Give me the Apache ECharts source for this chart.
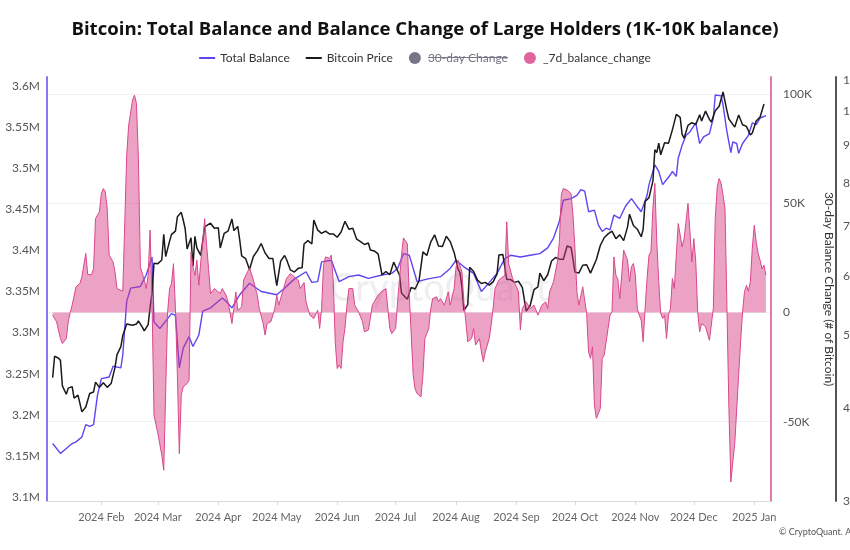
<!DOCTYPE html>
<html>
<head>
<meta charset="utf-8">
<script src="https://cdn.jsdelivr.net/npm/echarts@6/dist/echarts.min.js"></script>
<style>html,body{margin:0;padding:0;background:#fff}#c{width:850px;height:550px}</style>
</head>
<body>
<div id="c"></div>
<script>
// ---- Data ----
const balanceDates = ['2024-01-07','2024-01-11','2024-01-14','2024-01-17','2024-01-19','2024-01-22','2024-01-24','2024-01-26','2024-01-28','2024-01-30','2024-02-01','2024-02-05','2024-02-07','2024-02-11','2024-02-12','2024-02-14','2024-02-16','2024-02-21','2024-02-24','2024-02-27','2024-02-28','2024-03-02','2024-03-06','2024-03-08','2024-03-10','2024-03-12','2024-03-14','2024-03-17','2024-03-19','2024-03-22','2024-03-24','2024-03-28','2024-03-31','2024-04-03','2024-04-05','2024-04-08','2024-04-12','2024-04-17','2024-04-23','2024-05-01','2024-05-05','2024-05-10','2024-05-16','2024-05-19','2024-05-22','2024-05-24','2024-05-29','2024-06-02','2024-06-07','2024-06-12','2024-06-17','2024-06-24','2024-06-29','2024-07-02','2024-07-05','2024-07-08','2024-07-12','2024-07-17','2024-07-24','2024-07-29','2024-08-01','2024-08-05','2024-08-10','2024-08-14','2024-08-17','2024-08-22','2024-08-26','2024-08-29','2024-09-03','2024-09-08','2024-09-13','2024-09-17','2024-09-20','2024-09-23','2024-09-25','2024-09-29','2024-10-02','2024-10-04','2024-10-06','2024-10-08','2024-10-11','2024-10-13','2024-10-15','2024-10-17','2024-10-19','2024-10-21','2024-10-24','2024-10-27','2024-10-30','2024-11-02','2024-11-04','2024-11-07','2024-11-08','2024-11-09','2024-11-11','2024-11-13','2024-11-15','2024-11-16','2024-11-19','2024-11-20','2024-11-22','2024-11-23','2024-11-25','2024-11-27','2024-11-29','2024-12-02','2024-12-04','2024-12-06','2024-12-09','2024-12-11','2024-12-12','2024-12-15','2024-12-16','2024-12-18','2024-12-20','2024-12-21','2024-12-23','2024-12-24','2024-12-26','2024-12-29','2024-12-31','2025-01-02','2025-01-04','2025-01-07'];
const balanceValues = [3.165,3.153,3.159,3.165,3.167,3.173,3.188,3.186,3.188,3.224,3.244,3.246,3.259,3.257,3.273,3.338,3.354,3.356,3.370,3.392,3.313,3.305,3.317,3.323,3.321,3.257,3.281,3.295,3.283,3.297,3.326,3.330,3.336,3.342,3.338,3.330,3.346,3.360,3.350,3.346,3.354,3.365,3.374,3.361,3.362,3.386,3.388,3.362,3.368,3.370,3.366,3.370,3.372,3.378,3.396,3.394,3.362,3.365,3.368,3.378,3.388,3.380,3.372,3.350,3.358,3.372,3.390,3.394,3.392,3.394,3.396,3.403,3.415,3.435,3.461,3.463,3.467,3.474,3.472,3.447,3.449,3.431,3.423,3.427,3.425,3.443,3.439,3.454,3.463,3.453,3.447,3.467,3.480,3.482,3.504,3.496,3.480,3.480,3.492,3.496,3.490,3.512,3.528,3.540,3.544,3.555,3.530,3.538,3.542,3.561,3.589,3.588,3.577,3.544,3.519,3.532,3.530,3.518,3.530,3.540,3.555,3.553,3.561,3.564];

const priceDates = ['2024-01-07','2024-01-08','2024-01-10','2024-01-11','2024-01-12','2024-01-14','2024-01-15','2024-01-17','2024-01-18','2024-01-20','2024-01-22','2024-01-24','2024-01-26','2024-01-28','2024-01-29','2024-01-31','2024-02-02','2024-02-04','2024-02-06','2024-02-08','2024-02-09','2024-02-11','2024-02-12','2024-02-14','2024-02-15','2024-02-17','2024-02-19','2024-02-20','2024-02-22','2024-02-23','2024-02-25','2024-02-26','2024-02-27','2024-02-28','2024-03-01','2024-03-03','2024-03-04','2024-03-05','2024-03-07','2024-03-08','2024-03-10','2024-03-11','2024-03-13','2024-03-14','2024-03-15','2024-03-16','2024-03-18','2024-03-19','2024-03-20','2024-03-21','2024-03-23','2024-03-25','2024-03-26','2024-03-28','2024-03-30','2024-04-01','2024-04-02','2024-04-04','2024-04-06','2024-04-08','2024-04-09','2024-04-11','2024-04-12','2024-04-13','2024-04-15','2024-04-17','2024-04-19','2024-04-21','2024-04-23','2024-04-25','2024-04-27','2024-04-29','2024-04-30','2024-05-01','2024-05-03','2024-05-05','2024-05-06','2024-05-08','2024-05-10','2024-05-12','2024-05-14','2024-05-15','2024-05-17','2024-05-19','2024-05-20','2024-05-22','2024-05-24','2024-05-26','2024-05-28','2024-05-30','2024-06-01','2024-06-03','2024-06-05','2024-06-07','2024-06-09','2024-06-11','2024-06-13','2024-06-15','2024-06-17','2024-06-18','2024-06-20','2024-06-22','2024-06-24','2024-06-26','2024-06-28','2024-06-30','2024-07-01','2024-07-03','2024-07-04','2024-07-05','2024-07-07','2024-07-09','2024-07-11','2024-07-13','2024-07-15','2024-07-17','2024-07-19','2024-07-21','2024-07-23','2024-07-25','2024-07-27','2024-07-29','2024-07-31','2024-08-02','2024-08-03','2024-08-04','2024-08-05','2024-08-07','2024-08-08','2024-08-10','2024-08-12','2024-08-14','2024-08-16','2024-08-18','2024-08-20','2024-08-22','2024-08-23','2024-08-25','2024-08-27','2024-08-29','2024-08-31','2024-09-02','2024-09-04','2024-09-06','2024-09-08','2024-09-10','2024-09-12','2024-09-13','2024-09-15','2024-09-17','2024-09-19','2024-09-21','2024-09-23','2024-09-25','2024-09-27','2024-09-29','2024-09-30','2024-10-01','2024-10-03','2024-10-05','2024-10-07','2024-10-09','2024-10-10','2024-10-12','2024-10-14','2024-10-16','2024-10-18','2024-10-20','2024-10-22','2024-10-24','2024-10-26','2024-10-28','2024-10-29','2024-10-31','2024-11-02','2024-11-04','2024-11-05','2024-11-06','2024-11-08','2024-11-10','2024-11-11','2024-11-12','2024-11-13','2024-11-14','2024-11-16','2024-11-18','2024-11-20','2024-11-22','2024-11-24','2024-11-25','2024-11-26','2024-11-28','2024-11-30','2024-12-02','2024-12-04','2024-12-05','2024-12-07','2024-12-09','2024-12-10','2024-12-12','2024-12-14','2024-12-16','2024-12-17','2024-12-18','2024-12-19','2024-12-20','2024-12-22','2024-12-24','2024-12-26','2024-12-28','2024-12-30','2024-12-31','2025-01-02','2025-01-04','2025-01-06'];
const priceValues = [43.9,46.9,46.6,46.3,42.8,41.7,42.5,42.7,41.2,41.6,39.5,40.1,41.8,42.0,43.3,42.6,43.2,42.6,43.1,45.3,47.1,48.3,50.0,51.8,52.0,51.6,51.8,52.3,51.3,50.7,51.7,54.5,57.1,62.5,62.4,63.1,68.3,63.8,66.9,68.3,69.0,72.1,73.1,71.4,69.5,65.3,67.6,61.9,67.9,65.5,64.0,69.9,70.0,70.7,69.6,69.7,65.5,68.5,69.0,71.6,69.1,70.0,67.1,63.9,63.4,61.3,63.8,64.9,66.4,64.5,63.4,63.4,60.6,58.3,62.9,64.0,63.2,61.2,60.8,61.5,61.6,66.3,67.0,66.3,71.4,69.2,68.5,69.0,68.4,68.4,67.7,68.8,71.1,69.4,69.6,67.3,66.8,66.2,66.5,65.1,64.9,64.3,60.3,60.9,60.3,62.7,62.9,60.2,57.0,56.6,55.9,58.0,57.7,59.2,64.7,64.0,66.7,68.2,65.9,65.8,67.9,66.8,64.6,61.4,60.7,58.1,54.0,55.0,61.7,60.9,59.3,58.7,58.9,58.4,59.0,60.4,64.1,64.2,59.4,59.4,58.9,59.1,58.0,53.9,54.8,57.6,58.1,60.6,59.2,60.3,62.9,63.6,63.3,63.2,65.9,65.6,63.3,60.8,60.6,62.1,62.2,60.6,60.3,63.2,66.0,67.6,68.4,69.0,67.4,68.2,67.0,69.9,72.7,70.2,69.4,67.8,69.4,75.6,76.5,80.5,88.7,87.9,90.5,87.3,90.6,90.5,94.3,98.9,98.0,93.0,91.9,95.6,96.4,95.9,98.8,96.9,99.9,97.4,96.6,100.0,101.4,106.0,106.1,100.0,97.5,97.2,95.1,98.7,95.8,95.3,92.8,93.4,96.9,98.1,102.1];

const changeDates = ['2024-01-07','2024-01-09','2024-01-11','2024-01-12','2024-01-14','2024-01-15','2024-01-16','2024-01-17','2024-01-19','2024-01-21','2024-01-22','2024-01-24','2024-01-25','2024-01-27','2024-01-28','2024-01-29','2024-01-31','2024-02-01','2024-02-02','2024-02-03','2024-02-04','2024-02-05','2024-02-07','2024-02-08','2024-02-09','2024-02-12','2024-02-13','2024-02-14','2024-02-15','2024-02-17','2024-02-18','2024-02-19','2024-02-20','2024-02-21','2024-02-23','2024-02-24','2024-02-25','2024-02-26','2024-02-27','2024-02-28','2024-03-01','2024-03-02','2024-03-03','2024-03-04','2024-03-05','2024-03-06','2024-03-07','2024-03-08','2024-03-09','2024-03-10','2024-03-11','2024-03-12','2024-03-13','2024-03-14','2024-03-16','2024-03-17','2024-03-18','2024-03-19','2024-03-20','2024-03-21','2024-03-22','2024-03-23','2024-03-24','2024-03-25','2024-03-26','2024-03-27','2024-03-28','2024-03-30','2024-04-02','2024-04-03','2024-04-04','2024-04-05','2024-04-06','2024-04-08','2024-04-09','2024-04-10','2024-04-11','2024-04-13','2024-04-14','2024-04-16','2024-04-17','2024-04-19','2024-04-21','2024-04-22','2024-04-24','2024-04-25','2024-04-26','2024-04-28','2024-04-30','2024-05-01','2024-05-02','2024-05-04','2024-05-06','2024-05-08','2024-05-10','2024-05-12','2024-05-13','2024-05-15','2024-05-16','2024-05-18','2024-05-20','2024-05-21','2024-05-22','2024-05-23','2024-05-24','2024-05-25','2024-05-26','2024-05-28','2024-05-29','2024-05-30','2024-05-31','2024-06-01','2024-06-02','2024-06-03','2024-06-04','2024-06-05','2024-06-06','2024-06-07','2024-06-09','2024-06-10','2024-06-12','2024-06-14','2024-06-15','2024-06-17','2024-06-18','2024-06-19','2024-06-22','2024-06-24','2024-06-26','2024-06-28','2024-06-29','2024-07-01','2024-07-02','2024-07-04','2024-07-05','2024-07-06','2024-07-07','2024-07-08','2024-07-09','2024-07-10','2024-07-11','2024-07-12','2024-07-14','2024-07-15','2024-07-16','2024-07-18','2024-07-19','2024-07-20','2024-07-22','2024-07-23','2024-07-24','2024-07-26','2024-07-28','2024-07-29','2024-07-31','2024-08-01','2024-08-02','2024-08-04','2024-08-05','2024-08-06','2024-08-07','2024-08-09','2024-08-10','2024-08-11','2024-08-13','2024-08-14','2024-08-15','2024-08-16','2024-08-18','2024-08-19','2024-08-20','2024-08-21','2024-08-23','2024-08-26','2024-08-27','2024-08-28','2024-08-30','2024-09-01','2024-09-02','2024-09-03','2024-09-04','2024-09-06','2024-09-08','2024-09-10','2024-09-12','2024-09-14','2024-09-16','2024-09-17','2024-09-18','2024-09-20','2024-09-22','2024-09-23','2024-09-24','2024-09-25','2024-09-27','2024-09-29','2024-09-30','2024-10-01','2024-10-02','2024-10-03','2024-10-05','2024-10-06','2024-10-07','2024-10-08','2024-10-09','2024-10-10','2024-10-11','2024-10-12','2024-10-14','2024-10-15','2024-10-16','2024-10-18','2024-10-19','2024-10-20','2024-10-21','2024-10-22','2024-10-23','2024-10-24','2024-10-25','2024-10-26','2024-10-27','2024-10-28','2024-10-29','2024-10-30','2024-10-31','2024-11-01','2024-11-02','2024-11-03','2024-11-04','2024-11-05','2024-11-06','2024-11-07','2024-11-08','2024-11-09','2024-11-10','2024-11-11','2024-11-12','2024-11-13','2024-11-14','2024-11-15','2024-11-16','2024-11-17','2024-11-18','2024-11-19','2024-11-20','2024-11-21','2024-11-22','2024-11-23','2024-11-24','2024-11-25','2024-11-26','2024-11-27','2024-11-28','2024-11-29','2024-11-30','2024-12-01','2024-12-02','2024-12-03','2024-12-04','2024-12-05','2024-12-07','2024-12-09','2024-12-10','2024-12-11','2024-12-12','2024-12-13','2024-12-14','2024-12-15','2024-12-16','2024-12-17','2024-12-18','2024-12-19','2024-12-20','2024-12-21','2024-12-22','2024-12-23','2024-12-24','2024-12-25','2024-12-26','2024-12-27','2024-12-28','2024-12-29','2024-12-30','2024-12-31','2025-01-01','2025-01-02','2025-01-03','2025-01-04','2025-01-05','2025-01-06','2025-01-07'];
const changeValues = [-1.2,-4.2,-11.9,-14.2,-11.9,-4.2,0,3.4,11.8,13.3,16.4,27.1,17.4,17.4,20.2,43.1,46.2,54.5,56.8,55.3,47.7,26.3,23.2,18.7,11,9.8,9.5,72.1,85.8,97.3,99.6,95.8,70.6,21,14.9,11,17.1,37.8,4.9,-47,-55.4,-56.1,-65.3,-72.2,-71.5,0.3,11,13.3,22.4,1.9,-28.7,-64.6,-37.8,-34,-32.5,-31,27.8,21,17.1,24,12.5,23.2,32.4,43,30.9,20.2,8.7,11,8.7,11,11,8,4.9,-5,1.9,9.5,1.1,2.6,14.9,18.7,20.5,14.9,8,1.9,-5,-10.3,-5,-4.2,1.9,8,3.4,9.5,15.6,17.9,16.4,14.9,11,13.8,4.9,-1.2,-2.7,-2.4,1.1,-7.3,1.9,21.7,25.5,24.8,26.3,14.1,-13.4,-25.6,-24.1,-25.6,-13.4,-7.3,3.4,11,11,3.4,0.3,-4.2,-8.8,-8,-2.7,3.4,8,9.8,11,-7.3,-9.6,-7.3,4.9,26.3,34.2,33.9,31.5,8,-10.3,-28.7,-35,-37.1,-38.6,-28.7,-11.9,-7.3,1.9,6.4,7.2,4.9,6.4,3.4,9.5,3.4,11,20.9,24,18.7,4.9,-4.2,-13.4,-11.9,-7.3,-14.9,-11.9,-18,-22.6,-18,-11.9,-5.8,1.9,11,14.9,17.1,41.6,22.5,15.6,11.8,9.5,-8,1.9,4.9,1.9,3.4,-1.2,3.4,4.9,1.9,9.5,14.1,23.2,32.4,53.8,56.8,56.1,54.5,44.6,29.4,9.5,3.4,11.8,11,-0.4,-18,-21,-15.7,-42.4,-48.5,-44,-21,-19.5,-7.3,-1.2,0.3,25.5,17.1,15.3,6.4,17.1,28.6,29.4,24,14.1,21,22.5,17.1,1.9,-1.2,-3.5,-13.4,1.9,15.6,26.3,27.8,47.7,59.2,32.4,14.1,-0.4,-2.7,-1.2,-11.9,-1.2,1.9,15.6,11,26.3,40.8,35.5,30.1,33.9,41.6,50,37,23.2,33.9,23.2,0,-8.8,-5,-6.5,-12.7,-11.9,1.9,43.1,57.6,61.4,59.2,53.8,47.7,1.9,-44,-77.6,-68.4,-60,-59.3,-28.7,-13.4,0.3,9.5,12.5,9.8,14.1,29.4,40,32.4,27.1,24,20,21.7,17.1];

const balanceTicks = [3.1,3.15,3.2,3.25,3.3,3.35,3.4,3.45,3.5,3.55,3.6];
const changeTicks = [-50,0,50,100];
const priceTicks = [30,40,50,60,70,80,90,100,110];
const monthTickDates = ['2024-02-01','2024-03-01','2024-04-01','2024-05-01','2024-06-01','2024-07-01','2024-08-01','2024-09-01','2024-10-01','2024-11-01','2024-12-01','2025-01-01'];
const monthNames = ['Jan','Feb','Mar','Apr','May','Jun','Jul','Aug','Sep','Oct','Nov','Dec'];
const xStart = '2024-01-04', xEnd = '2025-01-09';

const toTime = s => { const p = s.split('-').map(Number); return Date.UTC(p[0], p[1] - 1, p[2]); };
const zip = (a, b) => a.map((d, i) => [toTime(d), b[i]]);
const monthTicks = monthTickDates.map(toTime);
const DAY = 86400000;

const FONT = 'Lato';
const chart = echarts.init(document.getElementById('c'), null, {renderer: 'canvas'});
const linePath = 'path://M0,0H16V2H0Z';

chart.setOption({
  animation: false,
  textStyle: {fontFamily: FONT},
  title: {
    text: 'Bitcoin: Total Balance and Balance Change of Large Holders (1K-10K balance)',
    left: 'center', top: 15,
    textStyle: {fontFamily: 'Open Sans', fontSize: 18.6, fontWeight: 'bold', color: '#111'}
  },
  legend: {
    top: 47, left: 'center', itemGap: 16, itemWidth: 16, itemHeight: 12,
    textStyle: {fontFamily: FONT, fontSize: 12, color: '#333'},
    inactiveColor: '#767686',
    selected: {'30-day Change': false},
    data: [
      {name: 'Total Balance', icon: linePath},
      {name: 'Bitcoin Price', icon: linePath},
      {name: '30-day Change', icon: 'circle'},
      {name: '_7d_balance_change', icon: 'circle'}
    ]
  },
  grid: {left: 47, right: 79, top: 77, bottom: 49, outerBoundsMode: 'none', containLabel: false},
  xAxis: {
    type: 'value',
    min: toTime(xStart) + 0.1 * DAY,
    max: toTime(xEnd) + 0.6 * DAY,
    axisLine: {show: true, onZero: false, lineStyle: {color: '#d8d8e0'}},
    axisTick: {show: true, length: 4, lineStyle: {color: '#d8d8e0'}, customValues: monthTicks},
    splitLine: {show: false},
    axisLabel: {
      customValues: monthTicks, color: '#666', fontSize: 11, margin: 11,
      formatter: v => { const d = new Date(v); return d.getUTCFullYear() + ' ' + monthNames[d.getUTCMonth()]; }
    }
  },
  yAxis: [
    {
      type: 'value', position: 'left', min: 3.0951, max: 3.6109,
      axisLine: {show: true, lineStyle: {color: '#8877f2', width: 2}},
      axisTick: {show: false, customValues: balanceTicks},
      splitLine: {show: false},
      axisLabel: {customValues: balanceTicks, color: '#555', fontSize: 12, margin: 7,
        formatter: v => (+v.toFixed(2)) + 'M'}
    },
    {
      type: 'value', position: 'right', min: -86.3, max: 107.9,
      name: '30-day Balance Change (# of Bitcoin)', nameLocation: 'middle', nameRotate: -90, nameGap: 49,
      nameTextStyle: {fontFamily: FONT, fontSize: 12, color: '#333'},
      axisLine: {show: true, onZero: false, lineStyle: {color: '#e27aa9', width: 2}},
      axisTick: {show: false, customValues: changeTicks},
      splitLine: {show: true, lineStyle: {color: '#f1f1f4'}},
      axisLabel: {customValues: changeTicks, color: '#555', fontSize: 12, margin: 12,
        formatter: v => v === 0 ? '0' : v + 'K'}
    },
    {
      type: 'log', position: 'right', offset: 65, min: 30, max: 111,
      axisLine: {show: true, lineStyle: {color: '#555', width: 2}},
      axisTick: {show: false},
      splitLine: {show: false},
      axisLabel: {customValues: priceTicks, color: '#555', fontSize: 12, margin: 7,
        formatter: v => Math.round(v) + 'K'}
    }
  ],
  series: [
    {
      name: 'Total Balance', type: 'line', yAxisIndex: 0, showSymbol: false,
      color: '#5a46f2', lineStyle: {width: 1.4, color: '#5a46f2'},
      data: zip(balanceDates, balanceValues), z: 3
    },
    {
      name: 'Bitcoin Price', type: 'line', yAxisIndex: 2, showSymbol: false,
      color: '#1a1a1a', lineStyle: {width: 1.5, color: '#1a1a1a'},
      data: zip(priceDates, priceValues), z: 3
    },
    {
      name: '30-day Change', type: 'line', yAxisIndex: 1, showSymbol: false,
      color: '#767686', data: []
    },
    {
      name: '_7d_balance_change', type: 'line', yAxisIndex: 1, showSymbol: false,
      color: '#e0659f', lineStyle: {width: 1, color: '#d9478a'},
      areaStyle: {origin: 0, color: 'rgba(212,58,133,0.68)'},
      data: zip(changeDates, changeValues), z: 4
    }
  ],
  graphic: [
    {type: 'text', left: 330, top: 270, z: 1, silent: true,
      style: {text: 'CryptoQuant', fontFamily: FONT, fontSize: 38, fill: 'rgba(190,190,205,0.25)'}},
    {type: 'text', left: 779, top: 528, silent: true,
      style: {text: '\u00A9 CryptoQuant. All rights reserved.', fontFamily: FONT, fontSize: 9, fill: '#555'}},
    {type: 'rect', left: 428, top: 57, silent: true, shape: {width: 80, height: 1}, style: {fill: '#767686'}}
  ]
});
</script>
</body>
</html>
